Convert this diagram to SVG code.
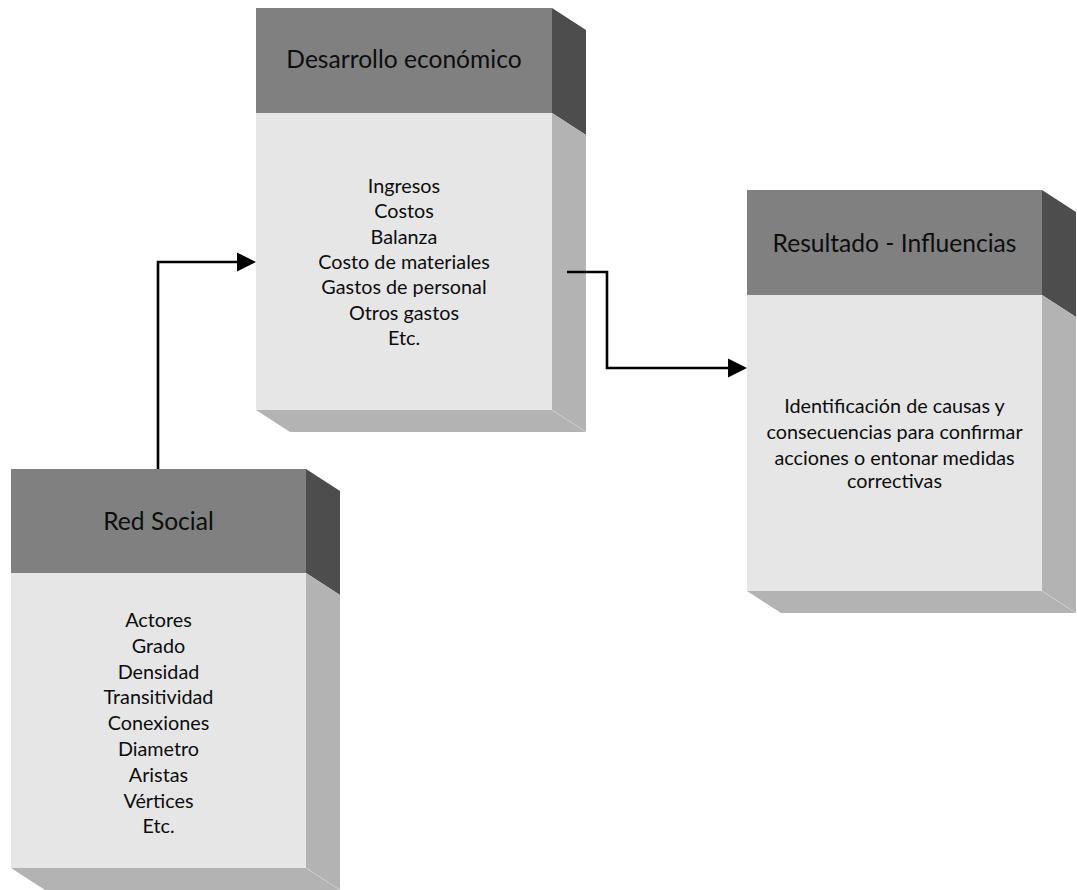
<svg xmlns="http://www.w3.org/2000/svg" width="1077" height="890" viewBox="0 0 1077 890">
  <defs>
    <style>
      .head { fill: #808080; }
      .body { fill: #e6e6e6; }
      .side-dark { fill: #4d4d4d; }
      .side-light { fill: #b3b3b3; }
      .edge { fill: none; stroke: #cfcfcf; stroke-width: 0.8; }
      .title { font-family: Lato, "Liberation Sans", sans-serif; font-size: 24.6px; fill: #0d0d0d; text-anchor: middle; }
      .item { font-family: Lato, "Liberation Sans", sans-serif; font-size: 19.8px; fill: #0d0d0d; text-anchor: middle; }
      .link { fill: none; stroke: #000; stroke-width: 2.6; stroke-linejoin: miter; }
    </style>
    <marker id="arrow" markerUnits="userSpaceOnUse" markerWidth="20" markerHeight="20" refX="0" refY="10" orient="auto">
      <polygon points="0,0.5 19,10 0,19.5" fill="#000"/>
    </marker>
  </defs>

  <rect width="1077" height="890" fill="#fff"/>

  <!-- Desarrollo económico -->
  <g id="desarrollo">
    <rect class="head" x="256" y="8" width="296" height="105"/>
    <rect class="body" x="256" y="113" width="296" height="297"/>
    <polygon class="side-dark" points="552,8 586,30 586,135 552,113"/>
    <polygon class="side-light" points="552,113 586,135 586,432 552,410"/>
    <polygon class="side-light" points="256,410 552,410 586,432 290,432"/>
    <line class="edge" x1="552" y1="410" x2="586" y2="432"/>
    <text class="title" x="404" y="68">Desarrollo económico</text>
    <text class="item" x="404" y="193">Ingresos</text>
    <text class="item" x="404" y="218">Costos</text>
    <text class="item" x="404" y="243.5">Balanza</text>
    <text class="item" x="404" y="269">Costo de materiales</text>
    <text class="item" x="404" y="294">Gastos de personal</text>
    <text class="item" x="404" y="319.5">Otros gastos</text>
    <text class="item" x="404" y="345">Etc.</text>
  </g>

  <!-- Red Social -->
  <g id="red-social">
    <rect class="head" x="11" y="469" width="295" height="104"/>
    <rect class="body" x="11" y="573" width="295" height="295"/>
    <polygon class="side-dark" points="306,469 340,491 340,595 306,573"/>
    <polygon class="side-light" points="306,573 340,595 340,890 306,868"/>
    <polygon class="side-light" points="11,868 306,868 340,890 45,890"/>
    <line class="edge" x1="306" y1="868" x2="340" y2="890"/>
    <text class="title" x="158.5" y="530">Red Social</text>
    <text class="item" x="158.5" y="627">Actores</text>
    <text class="item" x="158.5" y="652.5">Grado</text>
    <text class="item" x="158.5" y="678.5">Densidad</text>
    <text class="item" x="158.5" y="704">Transitividad</text>
    <text class="item" x="158.5" y="730">Conexiones</text>
    <text class="item" x="158.5" y="756">Diametro</text>
    <text class="item" x="158.5" y="782">Aristas</text>
    <text class="item" x="158.5" y="808">Vértices</text>
    <text class="item" x="158.5" y="833">Etc.</text>
  </g>

  <!-- Resultado - Influencias -->
  <g id="resultado">
    <rect class="head" x="747" y="190" width="295" height="105"/>
    <rect class="body" x="747" y="295" width="295" height="296"/>
    <polygon class="side-dark" points="1042,190 1076,212 1076,317 1042,295"/>
    <polygon class="side-light" points="1042,295 1076,317 1076,613 1042,591"/>
    <polygon class="side-light" points="747,591 1042,591 1076,613 781,613"/>
    <line class="edge" x1="1042" y1="591" x2="1076" y2="613"/>
    <text class="title" x="894.5" y="252">Resultado - Influencias</text>
    <text class="item" x="894.5" y="413">Identificación de causas y</text>
    <text class="item" x="894.5" y="439">consecuencias para confirmar</text>
    <text class="item" x="894.5" y="465">acciones o entonar medidas</text>
    <text class="item" x="894.5" y="488">correctivas</text>
  </g>

  <!-- connectors -->
  <g id="connectors">
    <path class="link" d="M158,469 V262 H237" marker-end="url(#arrow)"/>
    <path class="link" d="M567,272 H607 V368 H728" marker-end="url(#arrow)"/>
  </g>
</svg>
